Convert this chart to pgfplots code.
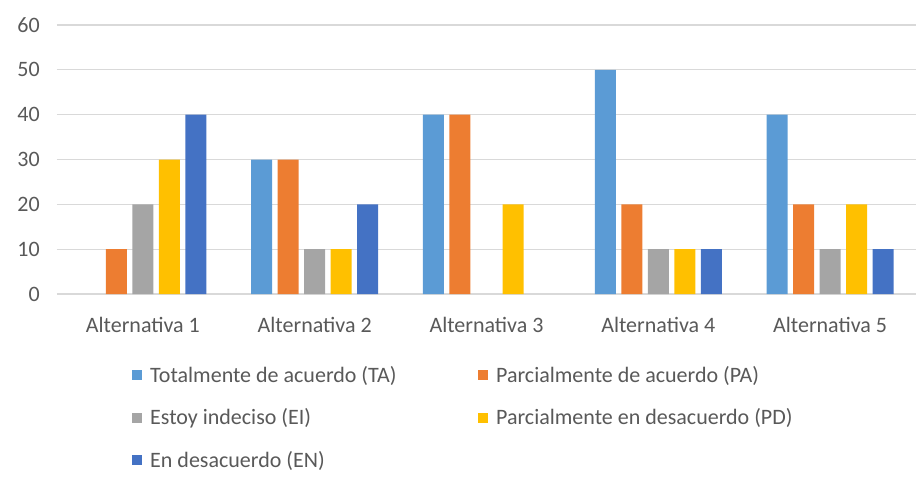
\documentclass[border=0pt]{standalone}
\usepackage{fontspec}
\setmainfont{Carlito}
\usepackage{pgfplots}
\pgfplotsset{compat=1.18}
\definecolor{cTA}{HTML}{5B9BD5}
\definecolor{cPA}{HTML}{ED7D31}
\definecolor{cEI}{HTML}{A5A5A5}
\definecolor{cPD}{HTML}{FFC000}
\definecolor{cEN}{HTML}{4472C4}
\definecolor{txt}{HTML}{595959}
\definecolor{gridc}{HTML}{D9D9D9}
\begin{document}
\begin{tikzpicture}
\begin{axis}[
  scale only axis, width=859pt, height=269pt,
  ybar=5.5pt, bar width=21pt,
  xmin=-0.5, xmax=4.5, ymin=0, ymax=60,
  xtick={0,...,4}, xticklabels={Alternativa 1,Alternativa 2,Alternativa 3,Alternativa 4,Alternativa 5},
  ytick={0,10,...,60},
  major tick length=0pt,
  axis line style={draw=none},
  ymajorgrids, major grid style={gridc, line width=1.3pt},
  font=\fontsize{22pt}{26pt}\selectfont,
  every tick label/.append style={text=txt},
  /pgf/number format/assume math mode=true,
  yticklabel style={inner sep=0pt, xshift=-17pt},
  xticklabel style={inner sep=0pt, anchor=north, yshift=-23pt},
  legend columns=2,
  legend style={draw=none, at={(rel axis cs:0,0)}, anchor=north west, xshift=72pt, yshift=-68pt,
    text=txt, font=\fontsize{22pt}{26pt}\selectfont, row sep=21pt,
    /tikz/every odd column/.append style={column sep=6pt},
    /tikz/every even column/.append style={column sep=0pt}},
  legend cell align=left,
  legend image code/.code={\fill[#1, draw=none] (0pt,-5pt) rectangle (10pt,5pt);},
  every axis plot/.append style={draw=none},
]
% ceros omitidos (no se ven en el original)
\addplot[fill=cTA] coordinates {(1,30) (2,40) (3,50) (4,40)};
\addlegendentry{\makebox[326pt][l]{Totalmente de acuerdo (TA)}}
\addplot[fill=cPA] coordinates {(0,10) (1,30) (2,40) (3,20) (4,20)};
\addlegendentry{Parcialmente de acuerdo (PA)}
\addplot[fill=cEI] coordinates {(0,20) (1,10) (3,10) (4,10)};
\addlegendentry{\makebox[326pt][l]{Estoy indeciso (EI)}}
\addplot[fill=cPD] coordinates {(0,30) (1,10) (2,20) (3,10) (4,20)};
\addlegendentry{Parcialmente en desacuerdo (PD)}
\addplot[fill=cEN] coordinates {(0,40) (1,20) (3,10) (4,10)};
\addlegendentry{\makebox[326pt][l]{En desacuerdo (EN)}}
\end{axis}
\pgfresetboundingbox
\useasboundingbox (-57pt,-183pt) rectangle (859pt,294pt);
\end{tikzpicture}
\end{document}
